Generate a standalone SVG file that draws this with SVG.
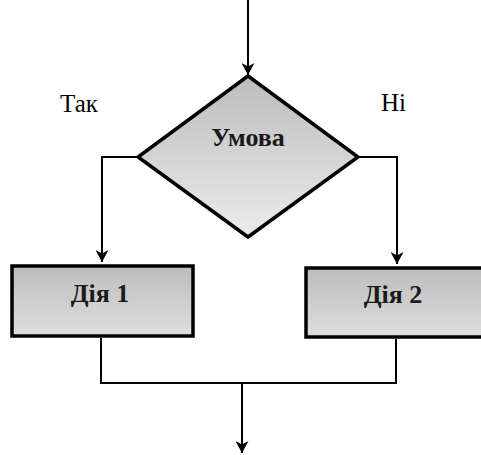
<svg xmlns="http://www.w3.org/2000/svg" width="481" height="455" viewBox="0 0 481 455">
  <style>
    .shape { stroke: #000; stroke-width: 3.5; stroke-linejoin: miter; }
    .wire { fill: none; stroke: #000; stroke-width: 2; }
    .label { font-family: "Liberation Serif", "Times New Roman", serif; font-size: 25px; fill: #000; }
    .title { font-family: "Liberation Serif", "Times New Roman", serif; font-size: 26px; font-weight: bold; fill: #1a1a1a; text-anchor: middle; }
  </style>
  <defs>
    <linearGradient id="diamondFill" x1="0" y1="0" x2="0" y2="1">
      <stop offset="0" stop-color="#bcbcbc"/>
      <stop offset="1" stop-color="#ececec"/>
    </linearGradient>
    <linearGradient id="boxFill" x1="0" y1="0" x2="0" y2="1">
      <stop offset="0" stop-color="#bdbdbd"/>
      <stop offset="1" stop-color="#dedede"/>
    </linearGradient>
    <marker id="arrow" viewBox="0 0 12 13" refX="12" refY="6.5" markerWidth="12" markerHeight="13" markerUnits="userSpaceOnUse" orient="auto">
      <path d="M0,0 L12,6.5 L0,13 L3.5,6.5 Z" fill="#000"/>
    </marker>
  </defs>

  <!-- connectors -->
  <g id="connectors">
    <line class="wire" x1="248" y1="0" x2="248" y2="75" marker-end="url(#arrow)"/>
    <polyline class="wire" points="138,157 102,157 102,262" marker-end="url(#arrow)"/>
    <polyline class="wire" points="358,157 397,157 397,264" marker-end="url(#arrow)"/>
    <polyline class="wire" points="101,338 101,383 396,383 396,339"/>
    <line class="wire" x1="242" y1="383" x2="242" y2="453" marker-end="url(#arrow)"/>
  </g>

  <!-- branch labels -->
  <text class="label" x="60" y="112">Так</text>
  <text class="label" x="381" y="111">Ні</text>

  <!-- decision -->
  <g id="condition">
    <polygon class="shape" points="248,76 358,157 248,237 138,157" fill="url(#diamondFill)"/>
    <text class="title" x="248" y="146">Умова</text>
  </g>

  <!-- action 1 -->
  <g id="action1">
    <rect class="shape" x="12" y="266" width="181" height="70" fill="url(#boxFill)"/>
    <text class="title" x="100" y="302">Дія 1</text>
  </g>

  <!-- action 2 -->
  <g id="action2">
    <rect class="shape" x="306" y="268" width="190" height="69" fill="url(#boxFill)"/>
    <text class="title" x="393" y="303">Дія 2</text>
  </g>
</svg>
